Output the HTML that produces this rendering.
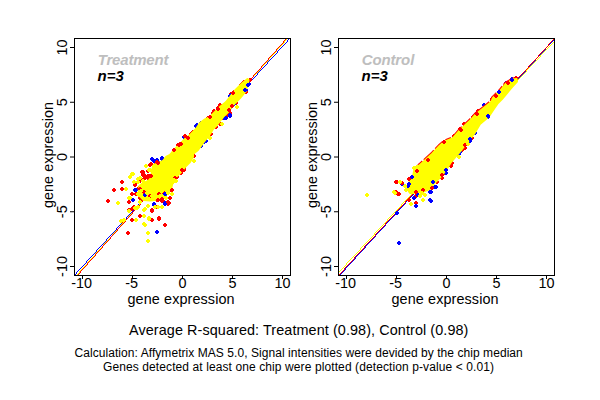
<!DOCTYPE html>
<html><head><meta charset="utf-8"><style>
html,body{margin:0;padding:0;background:#fff;width:600px;height:400px;overflow:hidden}
svg{display:block}
.t{font-family:"Liberation Sans",sans-serif;font-size:14.4px;fill:#000}
.bi{font-family:"Liberation Sans",sans-serif;font-size:15px;font-weight:bold;font-style:italic}
.s{font-family:"Liberation Sans",sans-serif;font-size:12px;fill:#000}
</style></head><body>
<svg width="600" height="400" viewBox="0 0 600 400">
<defs>
<clipPath id="c74"><rect x="74" y="38" width="217" height="238"/></clipPath>
<clipPath id="c338"><rect x="338" y="38" width="217" height="238"/></clipPath>
</defs>
<g clip-path="url(#c74)">
<path d="M289 38h1v1h-1zM288 39h1v1h-1zM287 40h1v1h-1zM287 41h1v1h-1zM286 42h1v1h-1zM285 43h1v1h-1zM284 44h1v1h-1zM283 45h1v1h-1zM282 46h1v1h-1zM281 47h1v1h-1zM280 48h1v1h-1zM279 49h1v1h-1zM278 50h1v1h-1zM277 51h1v1h-1zM277 52h1v1h-1zM276 53h1v1h-1zM275 54h1v1h-1zM274 55h1v1h-1zM273 56h1v1h-1zM272 57h1v1h-1zM271 58h1v1h-1zM270 59h1v1h-1zM269 60h1v1h-1zM268 61h1v1h-1zM267 62h1v1h-1zM267 63h1v1h-1zM266 64h1v1h-1zM265 65h1v1h-1zM264 66h1v1h-1zM263 67h1v1h-1zM262 68h1v1h-1zM261 69h1v1h-1zM260 70h1v1h-1zM259 71h1v1h-1zM258 72h1v1h-1zM257 73h1v1h-1zM257 74h1v1h-1zM256 75h1v1h-1zM255 76h1v1h-1zM254 77h1v1h-1zM253 78h1v1h-1zM252 79h1v1h-1zM251 80h1v1h-1zM250 81h1v1h-1zM249 82h1v1h-1zM248 83h1v1h-1zM247 84h1v1h-1zM247 85h1v1h-1zM246 86h1v1h-1zM245 87h1v1h-1zM244 88h1v1h-1zM243 89h1v1h-1zM242 90h1v1h-1zM241 91h1v1h-1zM240 92h1v1h-1zM239 93h1v1h-1zM238 94h1v1h-1zM237 95h1v1h-1zM237 96h1v1h-1zM236 97h1v1h-1zM235 98h1v1h-1zM234 99h1v1h-1zM233 100h1v1h-1zM232 101h1v1h-1zM231 102h1v1h-1zM230 103h1v1h-1zM229 104h1v1h-1zM228 105h1v1h-1zM227 106h1v1h-1zM227 107h1v1h-1zM226 108h1v1h-1zM225 109h1v1h-1zM224 110h1v1h-1zM223 111h1v1h-1zM222 112h1v1h-1zM221 113h1v1h-1zM220 114h1v1h-1zM219 115h1v1h-1zM218 116h1v1h-1zM217 117h1v1h-1zM217 118h1v1h-1zM216 119h1v1h-1zM215 120h1v1h-1zM214 121h1v1h-1zM213 122h1v1h-1zM212 123h1v1h-1zM211 124h1v1h-1zM210 125h1v1h-1zM209 126h1v1h-1zM208 127h1v1h-1zM207 128h1v1h-1zM207 129h1v1h-1zM206 130h1v1h-1zM205 131h1v1h-1zM204 132h1v1h-1zM203 133h1v1h-1zM202 134h1v1h-1zM201 135h1v1h-1zM200 136h1v1h-1zM199 137h1v1h-1zM198 138h1v1h-1zM197 139h1v1h-1zM197 140h1v1h-1zM196 141h1v1h-1zM195 142h1v1h-1zM194 143h1v1h-1zM193 144h1v1h-1zM192 145h1v1h-1zM191 146h1v1h-1zM190 147h1v1h-1zM189 148h1v1h-1zM188 149h1v1h-1zM187 150h1v1h-1zM187 151h1v1h-1zM186 152h1v1h-1zM185 153h1v1h-1zM184 154h1v1h-1zM183 155h1v1h-1zM182 156h1v1h-1zM181 157h1v1h-1zM180 158h1v1h-1zM179 159h1v1h-1zM178 160h1v1h-1zM177 161h1v1h-1zM176 162h1v1h-1zM176 163h1v1h-1zM175 164h1v1h-1zM174 165h1v1h-1zM173 166h1v1h-1zM172 167h1v1h-1zM171 168h1v1h-1zM170 169h1v1h-1zM169 170h1v1h-1zM168 171h1v1h-1zM167 172h1v1h-1zM166 173h1v1h-1zM166 174h1v1h-1zM165 175h1v1h-1zM164 176h1v1h-1zM163 177h1v1h-1zM162 178h1v1h-1zM161 179h1v1h-1zM160 180h1v1h-1zM159 181h1v1h-1zM158 182h1v1h-1zM157 183h1v1h-1zM156 184h1v1h-1zM156 185h1v1h-1zM155 186h1v1h-1zM154 187h1v1h-1zM153 188h1v1h-1zM152 189h1v1h-1zM151 190h1v1h-1zM150 191h1v1h-1zM149 192h1v1h-1zM148 193h1v1h-1zM147 194h1v1h-1zM146 195h1v1h-1zM146 196h1v1h-1zM145 197h1v1h-1zM144 198h1v1h-1zM143 199h1v1h-1zM142 200h1v1h-1zM141 201h1v1h-1zM140 202h1v1h-1zM139 203h1v1h-1zM138 204h1v1h-1zM137 205h1v1h-1zM136 206h1v1h-1zM136 207h1v1h-1zM135 208h1v1h-1zM134 209h1v1h-1zM133 210h1v1h-1zM132 211h1v1h-1zM131 212h1v1h-1zM130 213h1v1h-1zM129 214h1v1h-1zM128 215h1v1h-1zM127 216h1v1h-1zM126 217h1v1h-1zM126 218h1v1h-1zM125 219h1v1h-1zM124 220h1v1h-1zM123 221h1v1h-1zM122 222h1v1h-1zM121 223h1v1h-1zM120 224h1v1h-1zM119 225h1v1h-1zM118 226h1v1h-1zM117 227h1v1h-1zM116 228h1v1h-1zM116 229h1v1h-1zM115 230h1v1h-1zM114 231h1v1h-1zM113 232h1v1h-1zM112 233h1v1h-1zM111 234h1v1h-1zM110 235h1v1h-1zM109 236h1v1h-1zM108 237h1v1h-1zM107 238h1v1h-1zM106 239h1v1h-1zM106 240h1v1h-1zM105 241h1v1h-1zM104 242h1v1h-1zM103 243h1v1h-1zM102 244h1v1h-1zM101 245h1v1h-1zM100 246h1v1h-1zM99 247h1v1h-1zM98 248h1v1h-1zM97 249h1v1h-1zM96 250h1v1h-1zM96 251h1v1h-1zM95 252h1v1h-1zM94 253h1v1h-1zM93 254h1v1h-1zM92 255h1v1h-1zM91 256h1v1h-1zM90 257h1v1h-1zM89 258h1v1h-1zM88 259h1v1h-1zM87 260h1v1h-1zM86 261h1v1h-1zM86 262h1v1h-1zM85 263h1v1h-1zM84 264h1v1h-1zM83 265h1v1h-1zM82 266h1v1h-1zM81 267h1v1h-1zM80 268h1v1h-1zM79 269h1v1h-1zM78 270h1v1h-1zM77 271h1v1h-1zM76 272h1v1h-1zM76 273h1v1h-1zM75 274h1v1h-1zM74 275h1v1h-1z" fill="#0000ff" shape-rendering="crispEdges"/><path d="M287 38h1v1h-1zM286 39h1v1h-1zM285 40h1v1h-1zM284 41h1v1h-1zM284 42h1v1h-1zM283 43h1v1h-1zM282 44h1v1h-1zM281 45h1v1h-1zM280 46h1v1h-1zM279 47h1v1h-1zM278 48h1v1h-1zM277 49h1v1h-1zM276 50h1v1h-1zM276 51h1v1h-1zM275 52h1v1h-1zM274 53h1v1h-1zM273 54h1v1h-1zM272 55h1v1h-1zM271 56h1v1h-1zM270 57h1v1h-1zM269 58h1v1h-1zM268 59h1v1h-1zM268 60h1v1h-1zM267 61h1v1h-1zM266 62h1v1h-1zM265 63h1v1h-1zM264 64h1v1h-1zM263 65h1v1h-1zM262 66h1v1h-1zM261 67h1v1h-1zM260 68h1v1h-1zM260 69h1v1h-1zM259 70h1v1h-1zM258 71h1v1h-1zM257 72h1v1h-1zM256 73h1v1h-1zM255 74h1v1h-1zM254 75h1v1h-1zM253 76h1v1h-1zM252 77h1v1h-1zM251 78h1v1h-1zM251 79h1v1h-1zM250 80h1v1h-1zM249 81h1v1h-1zM248 82h1v1h-1zM247 83h1v1h-1zM246 84h1v1h-1zM245 85h1v1h-1zM244 86h1v1h-1zM243 87h1v1h-1zM243 88h1v1h-1zM242 89h1v1h-1zM241 90h1v1h-1zM240 91h1v1h-1zM239 92h1v1h-1zM238 93h1v1h-1zM237 94h1v1h-1zM236 95h1v1h-1zM235 96h1v1h-1zM235 97h1v1h-1zM234 98h1v1h-1zM233 99h1v1h-1zM232 100h1v1h-1zM231 101h1v1h-1zM230 102h1v1h-1zM229 103h1v1h-1zM228 104h1v1h-1zM227 105h1v1h-1zM227 106h1v1h-1zM226 107h1v1h-1zM225 108h1v1h-1zM224 109h1v1h-1zM223 110h1v1h-1zM222 111h1v1h-1zM221 112h1v1h-1zM220 113h1v1h-1zM219 114h1v1h-1zM219 115h1v1h-1zM218 116h1v1h-1zM217 117h1v1h-1zM216 118h1v1h-1zM215 119h1v1h-1zM214 120h1v1h-1zM213 121h1v1h-1zM212 122h1v1h-1zM211 123h1v1h-1zM210 124h1v1h-1zM210 125h1v1h-1zM209 126h1v1h-1zM208 127h1v1h-1zM207 128h1v1h-1zM206 129h1v1h-1zM205 130h1v1h-1zM204 131h1v1h-1zM203 132h1v1h-1zM202 133h1v1h-1zM202 134h1v1h-1zM201 135h1v1h-1zM200 136h1v1h-1zM199 137h1v1h-1zM198 138h1v1h-1zM197 139h1v1h-1zM196 140h1v1h-1zM195 141h1v1h-1zM194 142h1v1h-1zM194 143h1v1h-1zM193 144h1v1h-1zM192 145h1v1h-1zM191 146h1v1h-1zM190 147h1v1h-1zM189 148h1v1h-1zM188 149h1v1h-1zM187 150h1v1h-1zM186 151h1v1h-1zM186 152h1v1h-1zM185 153h1v1h-1zM184 154h1v1h-1zM183 155h1v1h-1zM182 156h1v1h-1zM181 157h1v1h-1zM180 158h1v1h-1zM179 159h1v1h-1zM178 160h1v1h-1zM177 161h1v1h-1zM177 162h1v1h-1zM176 163h1v1h-1zM175 164h1v1h-1zM174 165h1v1h-1zM173 166h1v1h-1zM172 167h1v1h-1zM171 168h1v1h-1zM170 169h1v1h-1zM169 170h1v1h-1zM169 171h1v1h-1zM168 172h1v1h-1zM167 173h1v1h-1zM166 174h1v1h-1zM165 175h1v1h-1zM164 176h1v1h-1zM163 177h1v1h-1zM162 178h1v1h-1zM161 179h1v1h-1zM161 180h1v1h-1zM160 181h1v1h-1zM159 182h1v1h-1zM158 183h1v1h-1zM157 184h1v1h-1zM156 185h1v1h-1zM155 186h1v1h-1zM154 187h1v1h-1zM153 188h1v1h-1zM153 189h1v1h-1zM152 190h1v1h-1zM151 191h1v1h-1zM150 192h1v1h-1zM149 193h1v1h-1zM148 194h1v1h-1zM147 195h1v1h-1zM146 196h1v1h-1zM145 197h1v1h-1zM144 198h1v1h-1zM144 199h1v1h-1zM143 200h1v1h-1zM142 201h1v1h-1zM141 202h1v1h-1zM140 203h1v1h-1zM139 204h1v1h-1zM138 205h1v1h-1zM137 206h1v1h-1zM136 207h1v1h-1zM136 208h1v1h-1zM135 209h1v1h-1zM134 210h1v1h-1zM133 211h1v1h-1zM132 212h1v1h-1zM131 213h1v1h-1zM130 214h1v1h-1zM129 215h1v1h-1zM128 216h1v1h-1zM128 217h1v1h-1zM127 218h1v1h-1zM126 219h1v1h-1zM125 220h1v1h-1zM124 221h1v1h-1zM123 222h1v1h-1zM122 223h1v1h-1zM121 224h1v1h-1zM120 225h1v1h-1zM120 226h1v1h-1zM119 227h1v1h-1zM118 228h1v1h-1zM117 229h1v1h-1zM116 230h1v1h-1zM115 231h1v1h-1zM114 232h1v1h-1zM113 233h1v1h-1zM112 234h1v1h-1zM112 235h1v1h-1zM111 236h1v1h-1zM110 237h1v1h-1zM109 238h1v1h-1zM108 239h1v1h-1zM107 240h1v1h-1zM106 241h1v1h-1zM105 242h1v1h-1zM104 243h1v1h-1zM103 244h1v1h-1zM103 245h1v1h-1zM102 246h1v1h-1zM101 247h1v1h-1zM100 248h1v1h-1zM99 249h1v1h-1zM98 250h1v1h-1zM97 251h1v1h-1zM96 252h1v1h-1zM95 253h1v1h-1zM95 254h1v1h-1zM94 255h1v1h-1zM93 256h1v1h-1zM92 257h1v1h-1zM91 258h1v1h-1zM90 259h1v1h-1zM89 260h1v1h-1zM88 261h1v1h-1zM87 262h1v1h-1zM87 263h1v1h-1zM86 264h1v1h-1zM85 265h1v1h-1zM84 266h1v1h-1zM83 267h1v1h-1zM82 268h1v1h-1zM81 269h1v1h-1zM80 270h1v1h-1zM79 271h1v1h-1zM79 272h1v1h-1zM78 273h1v1h-1zM77 274h1v1h-1zM76 275h1v1h-1z" fill="#ffff00" shape-rendering="crispEdges"/><path d="M286 38h1v1h-1zM285 39h1v1h-1zM284 40h1v1h-1zM283 41h1v1h-1zM283 42h1v1h-1zM282 43h1v1h-1zM281 44h1v1h-1zM280 45h1v1h-1zM279 46h1v1h-1zM278 47h1v1h-1zM277 48h1v1h-1zM276 49h1v1h-1zM276 50h1v1h-1zM275 51h1v1h-1zM274 52h1v1h-1zM273 53h1v1h-1zM272 54h1v1h-1zM271 55h1v1h-1zM270 56h1v1h-1zM269 57h1v1h-1zM268 58h1v1h-1zM268 59h1v1h-1zM267 60h1v1h-1zM266 61h1v1h-1zM265 62h1v1h-1zM264 63h1v1h-1zM263 64h1v1h-1zM262 65h1v1h-1zM261 66h1v1h-1zM261 67h1v1h-1zM260 68h1v1h-1zM259 69h1v1h-1zM258 70h1v1h-1zM257 71h1v1h-1zM256 72h1v1h-1zM255 73h1v1h-1zM254 74h1v1h-1zM253 75h1v1h-1zM253 76h1v1h-1zM252 77h1v1h-1zM251 78h1v1h-1zM250 79h1v1h-1zM249 80h1v1h-1zM248 81h1v1h-1zM247 82h1v1h-1zM246 83h1v1h-1zM246 84h1v1h-1zM245 85h1v1h-1zM244 86h1v1h-1zM243 87h1v1h-1zM242 88h1v1h-1zM241 89h1v1h-1zM240 90h1v1h-1zM239 91h1v1h-1zM238 92h1v1h-1zM238 93h1v1h-1zM237 94h1v1h-1zM236 95h1v1h-1zM235 96h1v1h-1zM234 97h1v1h-1zM233 98h1v1h-1zM232 99h1v1h-1zM231 100h1v1h-1zM231 101h1v1h-1zM230 102h1v1h-1zM229 103h1v1h-1zM228 104h1v1h-1zM227 105h1v1h-1zM226 106h1v1h-1zM225 107h1v1h-1zM224 108h1v1h-1zM223 109h1v1h-1zM223 110h1v1h-1zM222 111h1v1h-1zM221 112h1v1h-1zM220 113h1v1h-1zM219 114h1v1h-1zM218 115h1v1h-1zM217 116h1v1h-1zM216 117h1v1h-1zM215 118h1v1h-1zM215 119h1v1h-1zM214 120h1v1h-1zM213 121h1v1h-1zM212 122h1v1h-1zM211 123h1v1h-1zM210 124h1v1h-1zM209 125h1v1h-1zM208 126h1v1h-1zM208 127h1v1h-1zM207 128h1v1h-1zM206 129h1v1h-1zM205 130h1v1h-1zM204 131h1v1h-1zM203 132h1v1h-1zM202 133h1v1h-1zM201 134h1v1h-1zM200 135h1v1h-1zM200 136h1v1h-1zM199 137h1v1h-1zM198 138h1v1h-1zM197 139h1v1h-1zM196 140h1v1h-1zM195 141h1v1h-1zM194 142h1v1h-1zM193 143h1v1h-1zM193 144h1v1h-1zM192 145h1v1h-1zM191 146h1v1h-1zM190 147h1v1h-1zM189 148h1v1h-1zM188 149h1v1h-1zM187 150h1v1h-1zM186 151h1v1h-1zM185 152h1v1h-1zM185 153h1v1h-1zM184 154h1v1h-1zM183 155h1v1h-1zM182 156h1v1h-1zM181 157h1v1h-1zM180 158h1v1h-1zM179 159h1v1h-1zM178 160h1v1h-1zM178 161h1v1h-1zM177 162h1v1h-1zM176 163h1v1h-1zM175 164h1v1h-1zM174 165h1v1h-1zM173 166h1v1h-1zM172 167h1v1h-1zM171 168h1v1h-1zM170 169h1v1h-1zM170 170h1v1h-1zM169 171h1v1h-1zM168 172h1v1h-1zM167 173h1v1h-1zM166 174h1v1h-1zM165 175h1v1h-1zM164 176h1v1h-1zM163 177h1v1h-1zM163 178h1v1h-1zM162 179h1v1h-1zM161 180h1v1h-1zM160 181h1v1h-1zM159 182h1v1h-1zM158 183h1v1h-1zM157 184h1v1h-1zM156 185h1v1h-1zM155 186h1v1h-1zM155 187h1v1h-1zM154 188h1v1h-1zM153 189h1v1h-1zM152 190h1v1h-1zM151 191h1v1h-1zM150 192h1v1h-1zM149 193h1v1h-1zM148 194h1v1h-1zM148 195h1v1h-1zM147 196h1v1h-1zM146 197h1v1h-1zM145 198h1v1h-1zM144 199h1v1h-1zM143 200h1v1h-1zM142 201h1v1h-1zM141 202h1v1h-1zM140 203h1v1h-1zM140 204h1v1h-1zM139 205h1v1h-1zM138 206h1v1h-1zM137 207h1v1h-1zM136 208h1v1h-1zM135 209h1v1h-1zM134 210h1v1h-1zM133 211h1v1h-1zM132 212h1v1h-1zM132 213h1v1h-1zM131 214h1v1h-1zM130 215h1v1h-1zM129 216h1v1h-1zM128 217h1v1h-1zM127 218h1v1h-1zM126 219h1v1h-1zM125 220h1v1h-1zM125 221h1v1h-1zM124 222h1v1h-1zM123 223h1v1h-1zM122 224h1v1h-1zM121 225h1v1h-1zM120 226h1v1h-1zM119 227h1v1h-1zM118 228h1v1h-1zM117 229h1v1h-1zM117 230h1v1h-1zM116 231h1v1h-1zM115 232h1v1h-1zM114 233h1v1h-1zM113 234h1v1h-1zM112 235h1v1h-1zM111 236h1v1h-1zM110 237h1v1h-1zM110 238h1v1h-1zM109 239h1v1h-1zM108 240h1v1h-1zM107 241h1v1h-1zM106 242h1v1h-1zM105 243h1v1h-1zM104 244h1v1h-1zM103 245h1v1h-1zM102 246h1v1h-1zM102 247h1v1h-1zM101 248h1v1h-1zM100 249h1v1h-1zM99 250h1v1h-1zM98 251h1v1h-1zM97 252h1v1h-1zM96 253h1v1h-1zM95 254h1v1h-1zM95 255h1v1h-1zM94 256h1v1h-1zM93 257h1v1h-1zM92 258h1v1h-1zM91 259h1v1h-1zM90 260h1v1h-1zM89 261h1v1h-1zM88 262h1v1h-1zM87 263h1v1h-1zM87 264h1v1h-1zM86 265h1v1h-1zM85 266h1v1h-1zM84 267h1v1h-1zM83 268h1v1h-1zM82 269h1v1h-1zM81 270h1v1h-1zM80 271h1v1h-1zM80 272h1v1h-1zM79 273h1v1h-1zM78 274h1v1h-1zM77 275h1v1h-1z" fill="#ff0000" shape-rendering="crispEdges"/><path d="M121 180h2v1h1v2h-1v1h-2v-1h-1v-2h1zM113 188h2v1h1v2h-1v1h-2v-1h-1v-2h1zM121 187h2v1h1v2h-1v1h-2v-1h-1v-2h1zM107 199h2v1h1v2h-1v1h-2v-1h-1v-2h1zM131 192h2v1h1v2h-1v1h-2v-1h-1v-2h1zM135 192h2v1h1v2h-1v1h-2v-1h-1v-2h1zM128 200h2v1h1v2h-1v1h-2v-1h-1v-2h1zM128 208h2v1h1v2h-1v1h-2v-1h-1v-2h1zM133 205h2v1h1v2h-1v1h-2v-1h-1v-2h1zM139 214h2v1h1v2h-1v1h-2v-1h-1v-2h1zM131 218h2v1h1v2h-1v1h-2v-1h-1v-2h1zM121 219h2v1h1v2h-1v1h-2v-1h-1v-2h1zM151 209h2v1h1v2h-1v1h-2v-1h-1v-2h1zM151 218h2v1h1v2h-1v1h-2v-1h-1v-2h1zM127 231h2v1h1v2h-1v1h-2v-1h-1v-2h1zM139 196h2v1h1v2h-1v1h-2v-1h-1v-2h1zM142 197h2v1h1v2h-1v1h-2v-1h-1v-2h1zM134 183h2v1h1v2h-1v1h-2v-1h-1v-2h1zM143 173h2v1h1v2h-1v1h-2v-1h-1v-2h1zM147 174h2v1h1v2h-1v1h-2v-1h-1v-2h1zM151 176h2v1h1v2h-1v1h-2v-1h-1v-2h1zM176 175h2v1h1v2h-1v1h-2v-1h-1v-2h1zM171 180h2v1h1v2h-1v1h-2v-1h-1v-2h1zM170 188h2v1h1v2h-1v1h-2v-1h-1v-2h1zM165 192h2v1h1v2h-1v1h-2v-1h-1v-2h1zM169 196h2v1h1v2h-1v1h-2v-1h-1v-2h1zM161 199h2v1h1v2h-1v1h-2v-1h-1v-2h1zM167 202h2v1h1v2h-1v1h-2v-1h-1v-2h1zM156 198h2v1h1v2h-1v1h-2v-1h-1v-2h1zM157 205h2v1h1v2h-1v1h-2v-1h-1v-2h1zM158 217h2v1h1v2h-1v1h-2v-1h-1v-2h1zM164 223h2v1h1v2h-1v1h-2v-1h-1v-2h1zM142 171h2v1h1v2h-1v1h-2v-1h-1v-2h1zM150 162h2v1h1v2h-1v1h-2v-1h-1v-2h1zM156 159h2v1h1v2h-1v1h-2v-1h-1v-2h1zM142 170h2v1h1v2h-1v1h-2v-1h-1v-2h1zM144 174h2v1h1v2h-1v1h-2v-1h-1v-2h1zM140 177h2v1h1v2h-1v1h-2v-1h-1v-2h1zM147 176h2v1h1v2h-1v1h-2v-1h-1v-2h1zM149 174h2v1h1v2h-1v1h-2v-1h-1v-2h1zM134 181h2v1h1v2h-1v1h-2v-1h-1v-2h1zM138 186h2v1h1v2h-1v1h-2v-1h-1v-2h1zM140 198h2v1h1v2h-1v1h-2v-1h-1v-2h1zM149 194h2v1h1v2h-1v1h-2v-1h-1v-2h1zM148 188h2v1h1v2h-1v1h-2v-1h-1v-2h1zM156 205h2v1h1v2h-1v1h-2v-1h-1v-2h1zM162 199h2v1h1v2h-1v1h-2v-1h-1v-2h1zM167 202h2v1h1v2h-1v1h-2v-1h-1v-2h1zM163 191h2v1h1v2h-1v1h-2v-1h-1v-2h1zM170 188h2v1h1v2h-1v1h-2v-1h-1v-2h1zM175 175h2v1h1v2h-1v1h-2v-1h-1v-2h1zM157 198h2v1h1v2h-1v1h-2v-1h-1v-2h1zM131 207h2v1h1v2h-1v1h-2v-1h-1v-2h1zM184 134h2v1h1v2h-1v1h-2v-1h-1v-2h1zM185 136h2v1h1v2h-1v1h-2v-1h-1v-2h1zM177 143h2v1h1v2h-1v1h-2v-1h-1v-2h1zM180 142h2v1h1v2h-1v1h-2v-1h-1v-2h1zM173 148h2v1h1v2h-1v1h-2v-1h-1v-2h1zM190 132h2v1h1v2h-1v1h-2v-1h-1v-2h1zM192 130h2v1h1v2h-1v1h-2v-1h-1v-2h1zM198 124h2v1h1v2h-1v1h-2v-1h-1v-2h1zM207 116h2v1h1v2h-1v1h-2v-1h-1v-2h1zM157 161h2v1h1v2h-1v1h-2v-1h-1v-2h1zM159 164h2v1h1v2h-1v1h-2v-1h-1v-2h1zM154 160h2v1h1v2h-1v1h-2v-1h-1v-2h1zM210 132h2v1h1v2h-1v1h-2v-1h-1v-2h1zM193 154h2v1h1v2h-1v1h-2v-1h-1v-2h1zM183 166h2v1h1v2h-1v1h-2v-1h-1v-2h1zM180 171h2v1h1v2h-1v1h-2v-1h-1v-2h1zM191 148h2v1h1v2h-1v1h-2v-1h-1v-2h1zM179 142h2v1h1v2h-1v1h-2v-1h-1v-2h1zM149 163h2v1h1v2h-1v1h-2v-1h-1v-2h1zM183 168h2v1h1v2h-1v1h-2v-1h-1v-2h1zM176 175h2v1h1v2h-1v1h-2v-1h-1v-2h1zM169 196h2v1h1v2h-1v1h-2v-1h-1v-2h1zM162 199h2v1h1v2h-1v1h-2v-1h-1v-2h1zM168 201h2v1h1v2h-1v1h-2v-1h-1v-2h1zM151 208h2v1h1v2h-1v1h-2v-1h-1v-2h1zM139 214h2v1h1v2h-1v1h-2v-1h-1v-2h1zM158 216h2v1h1v2h-1v1h-2v-1h-1v-2h1zM213 109h2v1h1v2h-1v1h-2v-1h-1v-2h1zM219 103h2v1h1v2h-1v1h-2v-1h-1v-2h1zM230 92h2v1h1v2h-1v1h-2v-1h-1v-2h1zM240 83h2v1h1v2h-1v1h-2v-1h-1v-2h1zM243 80h2v1h1v2h-1v1h-2v-1h-1v-2h1zM227 112h2v1h1v2h-1v1h-2v-1h-1v-2h1zM229 111h2v1h1v2h-1v1h-2v-1h-1v-2h1zM222 116h2v1h1v2h-1v1h-2v-1h-1v-2h1zM219 122h2v1h1v2h-1v1h-2v-1h-1v-2h1zM235 101h2v1h1v2h-1v1h-2v-1h-1v-2h1zM245 90h2v1h1v2h-1v1h-2v-1h-1v-2h1zM219 103h2v1h1v2h-1v1h-2v-1h-1v-2h1zM233 90h2v1h1v2h-1v1h-2v-1h-1v-2h1zM241 82h2v1h1v2h-1v1h-2v-1h-1v-2h1zM249 78h2v1h1v2h-1v1h-2v-1h-1v-2h1zM229 111h2v1h1v2h-1v1h-2v-1h-1v-2h1zM229 106h2v1h1v2h-1v1h-2v-1h-1v-2h1zM226 114h2v1h1v2h-1v1h-2v-1h-1v-2h1zM229 114h2v1h1v2h-1v1h-2v-1h-1v-2h1zM218 121h2v1h1v2h-1v1h-2v-1h-1v-2h1zM215 125h2v1h1v2h-1v1h-2v-1h-1v-2h1zM212 111h2v1h1v2h-1v1h-2v-1h-1v-2h1zM217 106h2v1h1v2h-1v1h-2v-1h-1v-2h1z" fill="#ff0000" shape-rendering="crispEdges"/><path d="M135 188h2v1h1v2h-1v1h-2v-1h-1v-2h1zM132 198h2v1h1v2h-1v1h-2v-1h-1v-2h1zM143 192h2v1h1v2h-1v1h-2v-1h-1v-2h1zM153 202h2v1h1v2h-1v1h-2v-1h-1v-2h1zM164 201h2v1h1v2h-1v1h-2v-1h-1v-2h1zM156 230h2v1h1v2h-1v1h-2v-1h-1v-2h1zM151 157h2v1h1v2h-1v1h-2v-1h-1v-2h1zM153 159h2v1h1v2h-1v1h-2v-1h-1v-2h1zM161 157h2v1h1v2h-1v1h-2v-1h-1v-2h1zM172 151h2v1h1v2h-1v1h-2v-1h-1v-2h1zM161 156h2v1h1v2h-1v1h-2v-1h-1v-2h1zM195 124h2v1h1v2h-1v1h-2v-1h-1v-2h1zM200 121h2v1h1v2h-1v1h-2v-1h-1v-2h1zM183 135h2v1h1v2h-1v1h-2v-1h-1v-2h1zM200 144h2v1h1v2h-1v1h-2v-1h-1v-2h1zM203 140h2v1h1v2h-1v1h-2v-1h-1v-2h1zM205 139h2v1h1v2h-1v1h-2v-1h-1v-2h1zM144 193h2v1h1v2h-1v1h-2v-1h-1v-2h1zM153 202h2v1h1v2h-1v1h-2v-1h-1v-2h1zM164 202h2v1h1v2h-1v1h-2v-1h-1v-2h1zM165 192h2v1h1v2h-1v1h-2v-1h-1v-2h1zM140 191h2v1h1v2h-1v1h-2v-1h-1v-2h1zM196 123h2v1h1v2h-1v1h-2v-1h-1v-2h1zM230 93h2v1h1v2h-1v1h-2v-1h-1v-2h1zM248 82h2v1h1v2h-1v1h-2v-1h-1v-2h1zM243 88h2v1h1v2h-1v1h-2v-1h-1v-2h1zM223 116h2v1h1v2h-1v1h-2v-1h-1v-2h1zM229 105h2v1h1v2h-1v1h-2v-1h-1v-2h1zM238 93h2v1h1v2h-1v1h-2v-1h-1v-2h1zM229 94h2v1h1v2h-1v1h-2v-1h-1v-2h1zM245 88h2v1h1v2h-1v1h-2v-1h-1v-2h1zM241 92h2v1h1v2h-1v1h-2v-1h-1v-2h1zM233 102h2v1h1v2h-1v1h-2v-1h-1v-2h1zM230 105h2v1h1v2h-1v1h-2v-1h-1v-2h1zM229 113h2v1h1v2h-1v1h-2v-1h-1v-2h1zM158 161h2v1h1v2h-1v1h-2v-1h-1v-2h1zM156 158h2v1h1v2h-1v1h-2v-1h-1v-2h1z" fill="#0000ff" shape-rendering="crispEdges"/><polygon points="247.5,79 242,83.5 234.5,91 230,97 226,102 220,107 215,112 210,117 204,120 200,123 196,129 190,135 186,138 180,144 175,149 170,155 166,157 163,161 157,164 153,165 152.5,169 151.5,174 150,179.5 146,182 142.5,183.5 139.5,186 138.7,190 139.4,195.6 143.7,200 150,200.5 158,199.5 164,197 167,193 171,189 172,185 173,181 176,177 180,173 185,167 190,162 193,157 193,154 198,150 203,143 210,134 213,129 217,125 220,121 224,116 228,112 231,108 235,103 240,98 245.7,91 248,83 248.5,80" fill="#ffff00" stroke="#ffff00" stroke-width="2" stroke-linejoin="round"/><path d="M141 170h2v1h1v2h-1v1h-2v-1h-1v-2h1zM142 173h2v1h1v2h-1v1h-2v-1h-1v-2h1zM144 175h2v1h1v2h-1v1h-2v-1h-1v-2h1zM147 175h2v1h1v2h-1v1h-2v-1h-1v-2h1zM150 174h2v1h1v2h-1v1h-2v-1h-1v-2h1zM141 178h2v1h1v2h-1v1h-2v-1h-1v-2h1zM139 179h2v1h1v2h-1v1h-2v-1h-1v-2h1zM150 162h2v1h1v2h-1v1h-2v-1h-1v-2h1zM157 161h2v1h1v2h-1v1h-2v-1h-1v-2h1zM156 160h2v1h1v2h-1v1h-2v-1h-1v-2h1zM184 134h2v1h1v2h-1v1h-2v-1h-1v-2h1zM187 136h2v1h1v2h-1v1h-2v-1h-1v-2h1zM178 143h2v1h1v2h-1v1h-2v-1h-1v-2h1zM180 142h2v1h1v2h-1v1h-2v-1h-1v-2h1zM173 148h2v1h1v2h-1v1h-2v-1h-1v-2h1zM143 190h2v1h1v2h-1v1h-2v-1h-1v-2h1zM139 187h2v1h1v2h-1v1h-2v-1h-1v-2h1zM161 197h2v1h1v2h-1v1h-2v-1h-1v-2h1zM167 200h2v1h1v2h-1v1h-2v-1h-1v-2h1zM158 192h2v1h1v2h-1v1h-2v-1h-1v-2h1zM171 188h2v1h1v2h-1v1h-2v-1h-1v-2h1zM174 176h2v1h1v2h-1v1h-2v-1h-1v-2h1zM181 168h2v1h1v2h-1v1h-2v-1h-1v-2h1zM144 176h2v1h1v2h-1v1h-2v-1h-1v-2h1zM147 169h2v1h1v2h-1v1h-2v-1h-1v-2h1zM163 191h2v1h1v2h-1v1h-2v-1h-1v-2h1zM149 194h2v1h1v2h-1v1h-2v-1h-1v-2h1zM157 198h2v1h1v2h-1v1h-2v-1h-1v-2h1zM169 196h2v1h1v2h-1v1h-2v-1h-1v-2h1z" fill="#ff0000" shape-rendering="crispEdges"/><path d="M209 115h2v1h1v2h-1v1h-2v-1h-1v-2h1zM217 107h2v1h1v2h-1v1h-2v-1h-1v-2h1zM232 91h2v1h1v2h-1v1h-2v-1h-1v-2h1zM228 108h2v1h1v2h-1v1h-2v-1h-1v-2h1zM231 104h2v1h1v2h-1v1h-2v-1h-1v-2h1z" fill="#ff0000" shape-rendering="crispEdges"/><path d="M247 83h2v1h1v2h-1v1h-2v-1h-1v-2h1zM244 88h2v1h1v2h-1v1h-2v-1h-1v-2h1zM229 114h2v1h1v2h-1v1h-2v-1h-1v-2h1zM225 116h2v1h1v2h-1v1h-2v-1h-1v-2h1zM144 193h2v1h1v2h-1v1h-2v-1h-1v-2h1zM164 192h2v1h1v2h-1v1h-2v-1h-1v-2h1zM153 203h2v1h1v2h-1v1h-2v-1h-1v-2h1zM164 202h2v1h1v2h-1v1h-2v-1h-1v-2h1zM134 188h2v1h1v2h-1v1h-2v-1h-1v-2h1z" fill="#0000ff" shape-rendering="crispEdges"/><path d="M132 172h2v1h1v2h-1v1h-2v-1h-1v-2h1zM129 175h2v1h1v2h-1v1h-2v-1h-1v-2h1zM125 187h2v1h1v2h-1v1h-2v-1h-1v-2h1zM117 201h2v1h1v2h-1v1h-2v-1h-1v-2h1zM129 196h2v1h1v2h-1v1h-2v-1h-1v-2h1zM136 206h2v1h1v2h-1v1h-2v-1h-1v-2h1zM144 207h2v1h1v2h-1v1h-2v-1h-1v-2h1zM147 204h2v1h1v2h-1v1h-2v-1h-1v-2h1zM154 205h2v1h1v2h-1v1h-2v-1h-1v-2h1zM157 205h2v1h1v2h-1v1h-2v-1h-1v-2h1zM161 205h2v1h1v2h-1v1h-2v-1h-1v-2h1zM143 214h2v1h1v2h-1v1h-2v-1h-1v-2h1zM135 218h2v1h1v2h-1v1h-2v-1h-1v-2h1zM148 217h2v1h1v2h-1v1h-2v-1h-1v-2h1zM144 223h2v1h1v2h-1v1h-2v-1h-1v-2h1zM147 231h2v1h1v2h-1v1h-2v-1h-1v-2h1zM147 239h2v1h1v2h-1v1h-2v-1h-1v-2h1zM123 218h2v1h1v2h-1v1h-2v-1h-1v-2h1zM120 219h2v1h1v2h-1v1h-2v-1h-1v-2h1zM129 175h2v1h1v2h-1v1h-2v-1h-1v-2h1zM137 192h2v1h1v2h-1v1h-2v-1h-1v-2h1zM128 196h2v1h1v2h-1v1h-2v-1h-1v-2h1zM128 209h2v1h1v2h-1v1h-2v-1h-1v-2h1zM134 206h2v1h1v2h-1v1h-2v-1h-1v-2h1zM137 205h2v1h1v2h-1v1h-2v-1h-1v-2h1zM143 214h2v1h1v2h-1v1h-2v-1h-1v-2h1zM135 218h2v1h1v2h-1v1h-2v-1h-1v-2h1zM123 218h2v1h1v2h-1v1h-2v-1h-1v-2h1zM143 208h2v1h1v2h-1v1h-2v-1h-1v-2h1zM147 204h2v1h1v2h-1v1h-2v-1h-1v-2h1zM148 216h2v1h1v2h-1v1h-2v-1h-1v-2h1zM143 222h2v1h1v2h-1v1h-2v-1h-1v-2h1zM147 231h2v1h1v2h-1v1h-2v-1h-1v-2h1zM139 200h2v1h1v2h-1v1h-2v-1h-1v-2h1zM133 180h2v1h1v2h-1v1h-2v-1h-1v-2h1zM137 180h2v1h1v2h-1v1h-2v-1h-1v-2h1zM139 176h2v1h1v2h-1v1h-2v-1h-1v-2h1zM173 179h2v1h1v2h-1v1h-2v-1h-1v-2h1zM161 205h2v1h1v2h-1v1h-2v-1h-1v-2h1zM145 164h2v1h1v2h-1v1h-2v-1h-1v-2h1zM149 168h2v1h1v2h-1v1h-2v-1h-1v-2h1zM132 172h2v1h1v2h-1v1h-2v-1h-1v-2h1zM145 164h2v1h1v2h-1v1h-2v-1h-1v-2h1zM131 172h2v1h1v2h-1v1h-2v-1h-1v-2h1zM137 177h2v1h1v2h-1v1h-2v-1h-1v-2h1zM148 168h2v1h1v2h-1v1h-2v-1h-1v-2h1zM236 105h2v1h1v2h-1v1h-2v-1h-1v-2h1zM221 122h2v1h1v2h-1v1h-2v-1h-1v-2h1zM209 136h2v1h1v2h-1v1h-2v-1h-1v-2h1zM193 159h2v1h1v2h-1v1h-2v-1h-1v-2h1zM171 181h2v1h1v2h-1v1h-2v-1h-1v-2h1zM173 178h2v1h1v2h-1v1h-2v-1h-1v-2h1z" fill="#ffff00" shape-rendering="crispEdges"/><path d="M140 189h2v1h1v2h-1v1h-2v-1h-1v-2h1zM146 191h2v1h1v2h-1v1h-2v-1h-1v-2h1zM151 194h2v1h1v2h-1v1h-2v-1h-1v-2h1zM155 195h2v1h1v2h-1v1h-2v-1h-1v-2h1zM159 194h2v1h1v2h-1v1h-2v-1h-1v-2h1zM165 196h2v1h1v2h-1v1h-2v-1h-1v-2h1zM145 184h2v1h1v2h-1v1h-2v-1h-1v-2h1zM149 188h2v1h1v2h-1v1h-2v-1h-1v-2h1zM154 190h2v1h1v2h-1v1h-2v-1h-1v-2h1zM161 189h2v1h1v2h-1v1h-2v-1h-1v-2h1zM167 191h2v1h1v2h-1v1h-2v-1h-1v-2h1zM138 193h2v1h1v2h-1v1h-2v-1h-1v-2h1zM148 197h2v1h1v2h-1v1h-2v-1h-1v-2h1zM171 192h2v1h1v2h-1v1h-2v-1h-1v-2h1zM175 179h2v1h1v2h-1v1h-2v-1h-1v-2h1zM169 184h2v1h1v2h-1v1h-2v-1h-1v-2h1zM142 179h2v1h1v2h-1v1h-2v-1h-1v-2h1z" fill="#ffff00" shape-rendering="crispEdges"/>

</g>
<rect x="74.5" y="38.5" width="216" height="237" fill="none" stroke="#000" stroke-width="1"/>
<line x1="82.5" y1="275.5" x2="82.5" y2="279" stroke="#000"/>
<text x="81.7" y="288.2" text-anchor="middle" class="t">-10</text>
<line x1="132.5" y1="275.5" x2="132.5" y2="279" stroke="#000"/>
<text x="131.7" y="288.2" text-anchor="middle" class="t">-5</text>
<line x1="182.5" y1="275.5" x2="182.5" y2="279" stroke="#000"/>
<text x="182.5" y="288.2" text-anchor="middle" class="t">0</text>
<line x1="232.5" y1="275.5" x2="232.5" y2="279" stroke="#000"/>
<text x="232.5" y="288.2" text-anchor="middle" class="t">5</text>
<line x1="282.5" y1="275.5" x2="282.5" y2="279" stroke="#000"/>
<text x="282.5" y="288.2" text-anchor="middle" class="t">10</text>
<line x1="70" y1="47.5" x2="74.5" y2="47.5" stroke="#000"/>
<text transform="translate(66.5,47.5) rotate(-90)" text-anchor="middle" class="t">10</text>
<line x1="70" y1="102.25" x2="74.5" y2="102.25" stroke="#000"/>
<text transform="translate(66.5,102.25) rotate(-90)" text-anchor="middle" class="t">5</text>
<line x1="70" y1="157.0" x2="74.5" y2="157.0" stroke="#000"/>
<text transform="translate(66.5,157.0) rotate(-90)" text-anchor="middle" class="t">0</text>
<line x1="70" y1="211.75" x2="74.5" y2="211.75" stroke="#000"/>
<text transform="translate(66.5,211.75) rotate(-90)" text-anchor="middle" class="t">-5</text>
<line x1="70" y1="266.5" x2="74.5" y2="266.5" stroke="#000"/>
<text transform="translate(66.5,266.5) rotate(-90)" text-anchor="middle" class="t">-10</text>
<text x="127.5" y="303.5" class="t" textLength="107.1" lengthAdjust="spacing">gene expression</text>
<text transform="translate(53,208) rotate(-90)" class="t" textLength="106" lengthAdjust="spacing">gene expression</text>
<text x="97.7" y="64.7" class="bi" textLength="70.8" lengthAdjust="spacing" fill="#bebebe">Treatment</text>
<text x="97.5" y="80.7" class="bi" fill="#000">n=3</text>
<g clip-path="url(#c338)">
<path d="M554 40h1v1h-1zM554 41h1v1h-1zM553 42h1v1h-1zM552 43h1v1h-1zM551 44h1v1h-1zM550 45h1v1h-1zM549 46h1v1h-1zM548 47h1v1h-1zM547 48h1v1h-1zM546 49h1v1h-1zM545 50h1v1h-1zM544 51h1v1h-1zM543 52h1v1h-1zM542 53h1v1h-1zM541 54h1v1h-1zM540 55h1v1h-1zM540 56h1v1h-1zM539 57h1v1h-1zM538 58h1v1h-1zM537 59h1v1h-1zM536 60h1v1h-1zM535 61h1v1h-1zM534 62h1v1h-1zM533 63h1v1h-1zM532 64h1v1h-1zM531 65h1v1h-1zM530 66h1v1h-1zM529 67h1v1h-1zM528 68h1v1h-1zM527 69h1v1h-1zM526 70h1v1h-1zM526 71h1v1h-1zM525 72h1v1h-1zM524 73h1v1h-1zM523 74h1v1h-1zM522 75h1v1h-1zM521 76h1v1h-1zM520 77h1v1h-1zM519 78h1v1h-1zM518 79h1v1h-1zM517 80h1v1h-1zM516 81h1v1h-1zM515 82h1v1h-1zM514 83h1v1h-1zM513 84h1v1h-1zM512 85h1v1h-1zM512 86h1v1h-1zM511 87h1v1h-1zM510 88h1v1h-1zM509 89h1v1h-1zM508 90h1v1h-1zM507 91h1v1h-1zM506 92h1v1h-1zM505 93h1v1h-1zM504 94h1v1h-1zM503 95h1v1h-1zM502 96h1v1h-1zM501 97h1v1h-1zM500 98h1v1h-1zM499 99h1v1h-1zM498 100h1v1h-1zM498 101h1v1h-1zM497 102h1v1h-1zM496 103h1v1h-1zM495 104h1v1h-1zM494 105h1v1h-1zM493 106h1v1h-1zM492 107h1v1h-1zM491 108h1v1h-1zM490 109h1v1h-1zM489 110h1v1h-1zM488 111h1v1h-1zM487 112h1v1h-1zM486 113h1v1h-1zM485 114h1v1h-1zM484 115h1v1h-1zM484 116h1v1h-1zM483 117h1v1h-1zM482 118h1v1h-1zM481 119h1v1h-1zM480 120h1v1h-1zM479 121h1v1h-1zM478 122h1v1h-1zM477 123h1v1h-1zM476 124h1v1h-1zM475 125h1v1h-1zM474 126h1v1h-1zM473 127h1v1h-1zM472 128h1v1h-1zM471 129h1v1h-1zM470 130h1v1h-1zM470 131h1v1h-1zM469 132h1v1h-1zM468 133h1v1h-1zM467 134h1v1h-1zM466 135h1v1h-1zM465 136h1v1h-1zM464 137h1v1h-1zM463 138h1v1h-1zM462 139h1v1h-1zM461 140h1v1h-1zM460 141h1v1h-1zM459 142h1v1h-1zM458 143h1v1h-1zM457 144h1v1h-1zM457 145h1v1h-1zM456 146h1v1h-1zM455 147h1v1h-1zM454 148h1v1h-1zM453 149h1v1h-1zM452 150h1v1h-1zM451 151h1v1h-1zM450 152h1v1h-1zM449 153h1v1h-1zM448 154h1v1h-1zM447 155h1v1h-1zM446 156h1v1h-1zM445 157h1v1h-1zM444 158h1v1h-1zM443 159h1v1h-1zM443 160h1v1h-1zM442 161h1v1h-1zM441 162h1v1h-1zM440 163h1v1h-1zM439 164h1v1h-1zM438 165h1v1h-1zM437 166h1v1h-1zM436 167h1v1h-1zM435 168h1v1h-1zM434 169h1v1h-1zM433 170h1v1h-1zM432 171h1v1h-1zM431 172h1v1h-1zM430 173h1v1h-1zM429 174h1v1h-1zM429 175h1v1h-1zM428 176h1v1h-1zM427 177h1v1h-1zM426 178h1v1h-1zM425 179h1v1h-1zM424 180h1v1h-1zM423 181h1v1h-1zM422 182h1v1h-1zM421 183h1v1h-1zM420 184h1v1h-1zM419 185h1v1h-1zM418 186h1v1h-1zM417 187h1v1h-1zM416 188h1v1h-1zM415 189h1v1h-1zM415 190h1v1h-1zM414 191h1v1h-1zM413 192h1v1h-1zM412 193h1v1h-1zM411 194h1v1h-1zM410 195h1v1h-1zM409 196h1v1h-1zM408 197h1v1h-1zM407 198h1v1h-1zM406 199h1v1h-1zM405 200h1v1h-1zM404 201h1v1h-1zM403 202h1v1h-1zM402 203h1v1h-1zM401 204h1v1h-1zM401 205h1v1h-1zM400 206h1v1h-1zM399 207h1v1h-1zM398 208h1v1h-1zM397 209h1v1h-1zM396 210h1v1h-1zM395 211h1v1h-1zM394 212h1v1h-1zM393 213h1v1h-1zM392 214h1v1h-1zM391 215h1v1h-1zM390 216h1v1h-1zM389 217h1v1h-1zM388 218h1v1h-1zM387 219h1v1h-1zM387 220h1v1h-1zM386 221h1v1h-1zM385 222h1v1h-1zM384 223h1v1h-1zM383 224h1v1h-1zM382 225h1v1h-1zM381 226h1v1h-1zM380 227h1v1h-1zM379 228h1v1h-1zM378 229h1v1h-1zM377 230h1v1h-1zM376 231h1v1h-1zM375 232h1v1h-1zM374 233h1v1h-1zM374 234h1v1h-1zM373 235h1v1h-1zM372 236h1v1h-1zM371 237h1v1h-1zM370 238h1v1h-1zM369 239h1v1h-1zM368 240h1v1h-1zM367 241h1v1h-1zM366 242h1v1h-1zM365 243h1v1h-1zM364 244h1v1h-1zM363 245h1v1h-1zM362 246h1v1h-1zM361 247h1v1h-1zM360 248h1v1h-1zM360 249h1v1h-1zM359 250h1v1h-1zM358 251h1v1h-1zM357 252h1v1h-1zM356 253h1v1h-1zM355 254h1v1h-1zM354 255h1v1h-1zM353 256h1v1h-1zM352 257h1v1h-1zM351 258h1v1h-1zM350 259h1v1h-1zM349 260h1v1h-1zM348 261h1v1h-1zM347 262h1v1h-1zM346 263h1v1h-1zM346 264h1v1h-1zM345 265h1v1h-1zM344 266h1v1h-1zM343 267h1v1h-1zM342 268h1v1h-1zM341 269h1v1h-1zM340 270h1v1h-1zM339 271h1v1h-1zM338 272h1v1h-1z" fill="#ffff00" shape-rendering="crispEdges"/><path d="M554 39h1v1h-1zM553 40h1v1h-1zM552 41h1v1h-1zM551 42h1v1h-1zM550 43h1v1h-1zM549 44h1v1h-1zM548 45h1v1h-1zM547 46h1v1h-1zM546 47h1v1h-1zM545 48h1v1h-1zM545 49h1v1h-1zM544 50h1v1h-1zM543 51h1v1h-1zM542 52h1v1h-1zM541 53h1v1h-1zM540 54h1v1h-1zM539 55h1v1h-1zM538 56h1v1h-1zM537 57h1v1h-1zM536 58h1v1h-1zM535 59h1v1h-1zM535 60h1v1h-1zM534 61h1v1h-1zM533 62h1v1h-1zM532 63h1v1h-1zM531 64h1v1h-1zM530 65h1v1h-1zM529 66h1v1h-1zM528 67h1v1h-1zM527 68h1v1h-1zM526 69h1v1h-1zM525 70h1v1h-1zM525 71h1v1h-1zM524 72h1v1h-1zM523 73h1v1h-1zM522 74h1v1h-1zM521 75h1v1h-1zM520 76h1v1h-1zM519 77h1v1h-1zM518 78h1v1h-1zM517 79h1v1h-1zM516 80h1v1h-1zM515 81h1v1h-1zM515 82h1v1h-1zM514 83h1v1h-1zM513 84h1v1h-1zM512 85h1v1h-1zM511 86h1v1h-1zM510 87h1v1h-1zM509 88h1v1h-1zM508 89h1v1h-1zM507 90h1v1h-1zM506 91h1v1h-1zM505 92h1v1h-1zM505 93h1v1h-1zM504 94h1v1h-1zM503 95h1v1h-1zM502 96h1v1h-1zM501 97h1v1h-1zM500 98h1v1h-1zM499 99h1v1h-1zM498 100h1v1h-1zM497 101h1v1h-1zM496 102h1v1h-1zM495 103h1v1h-1zM495 104h1v1h-1zM494 105h1v1h-1zM493 106h1v1h-1zM492 107h1v1h-1zM491 108h1v1h-1zM490 109h1v1h-1zM489 110h1v1h-1zM488 111h1v1h-1zM487 112h1v1h-1zM486 113h1v1h-1zM485 114h1v1h-1zM485 115h1v1h-1zM484 116h1v1h-1zM483 117h1v1h-1zM482 118h1v1h-1zM481 119h1v1h-1zM480 120h1v1h-1zM479 121h1v1h-1zM478 122h1v1h-1zM477 123h1v1h-1zM476 124h1v1h-1zM475 125h1v1h-1zM475 126h1v1h-1zM474 127h1v1h-1zM473 128h1v1h-1zM472 129h1v1h-1zM471 130h1v1h-1zM470 131h1v1h-1zM469 132h1v1h-1zM468 133h1v1h-1zM467 134h1v1h-1zM466 135h1v1h-1zM465 136h1v1h-1zM465 137h1v1h-1zM464 138h1v1h-1zM463 139h1v1h-1zM462 140h1v1h-1zM461 141h1v1h-1zM460 142h1v1h-1zM459 143h1v1h-1zM458 144h1v1h-1zM457 145h1v1h-1zM456 146h1v1h-1zM455 147h1v1h-1zM455 148h1v1h-1zM454 149h1v1h-1zM453 150h1v1h-1zM452 151h1v1h-1zM451 152h1v1h-1zM450 153h1v1h-1zM449 154h1v1h-1zM448 155h1v1h-1zM447 156h1v1h-1zM446 157h1v1h-1zM445 158h1v1h-1zM445 159h1v1h-1zM444 160h1v1h-1zM443 161h1v1h-1zM442 162h1v1h-1zM441 163h1v1h-1zM440 164h1v1h-1zM439 165h1v1h-1zM438 166h1v1h-1zM437 167h1v1h-1zM436 168h1v1h-1zM435 169h1v1h-1zM435 170h1v1h-1zM434 171h1v1h-1zM433 172h1v1h-1zM432 173h1v1h-1zM431 174h1v1h-1zM430 175h1v1h-1zM429 176h1v1h-1zM428 177h1v1h-1zM427 178h1v1h-1zM426 179h1v1h-1zM425 180h1v1h-1zM425 181h1v1h-1zM424 182h1v1h-1zM423 183h1v1h-1zM422 184h1v1h-1zM421 185h1v1h-1zM420 186h1v1h-1zM419 187h1v1h-1zM418 188h1v1h-1zM417 189h1v1h-1zM416 190h1v1h-1zM415 191h1v1h-1zM415 192h1v1h-1zM414 193h1v1h-1zM413 194h1v1h-1zM412 195h1v1h-1zM411 196h1v1h-1zM410 197h1v1h-1zM409 198h1v1h-1zM408 199h1v1h-1zM407 200h1v1h-1zM406 201h1v1h-1zM405 202h1v1h-1zM405 203h1v1h-1zM404 204h1v1h-1zM403 205h1v1h-1zM402 206h1v1h-1zM401 207h1v1h-1zM400 208h1v1h-1zM399 209h1v1h-1zM398 210h1v1h-1zM397 211h1v1h-1zM396 212h1v1h-1zM395 213h1v1h-1zM395 214h1v1h-1zM394 215h1v1h-1zM393 216h1v1h-1zM392 217h1v1h-1zM391 218h1v1h-1zM390 219h1v1h-1zM389 220h1v1h-1zM388 221h1v1h-1zM387 222h1v1h-1zM386 223h1v1h-1zM385 224h1v1h-1zM385 225h1v1h-1zM384 226h1v1h-1zM383 227h1v1h-1zM382 228h1v1h-1zM381 229h1v1h-1zM380 230h1v1h-1zM379 231h1v1h-1zM378 232h1v1h-1zM377 233h1v1h-1zM376 234h1v1h-1zM375 235h1v1h-1zM375 236h1v1h-1zM374 237h1v1h-1zM373 238h1v1h-1zM372 239h1v1h-1zM371 240h1v1h-1zM370 241h1v1h-1zM369 242h1v1h-1zM368 243h1v1h-1zM367 244h1v1h-1zM366 245h1v1h-1zM365 246h1v1h-1zM365 247h1v1h-1zM364 248h1v1h-1zM363 249h1v1h-1zM362 250h1v1h-1zM361 251h1v1h-1zM360 252h1v1h-1zM359 253h1v1h-1zM358 254h1v1h-1zM357 255h1v1h-1zM356 256h1v1h-1zM355 257h1v1h-1zM355 258h1v1h-1zM354 259h1v1h-1zM353 260h1v1h-1zM352 261h1v1h-1zM351 262h1v1h-1zM350 263h1v1h-1zM349 264h1v1h-1zM348 265h1v1h-1zM347 266h1v1h-1zM346 267h1v1h-1zM345 268h1v1h-1zM345 269h1v1h-1zM344 270h1v1h-1zM343 271h1v1h-1zM342 272h1v1h-1zM341 273h1v1h-1zM340 274h1v1h-1zM339 275h1v1h-1z" fill="#0000ff" shape-rendering="crispEdges"/><path d="M554 38h1v1h-1zM553 39h1v1h-1zM552 40h1v1h-1zM551 41h1v1h-1zM550 42h1v1h-1zM549 43h1v1h-1zM548 44h1v1h-1zM548 45h1v1h-1zM547 46h1v1h-1zM546 47h1v1h-1zM545 48h1v1h-1zM544 49h1v1h-1zM543 50h1v1h-1zM542 51h1v1h-1zM541 52h1v1h-1zM540 53h1v1h-1zM539 54h1v1h-1zM538 55h1v1h-1zM538 56h1v1h-1zM537 57h1v1h-1zM536 58h1v1h-1zM535 59h1v1h-1zM534 60h1v1h-1zM533 61h1v1h-1zM532 62h1v1h-1zM531 63h1v1h-1zM530 64h1v1h-1zM529 65h1v1h-1zM528 66h1v1h-1zM528 67h1v1h-1zM527 68h1v1h-1zM526 69h1v1h-1zM525 70h1v1h-1zM524 71h1v1h-1zM523 72h1v1h-1zM522 73h1v1h-1zM521 74h1v1h-1zM520 75h1v1h-1zM519 76h1v1h-1zM518 77h1v1h-1zM517 78h1v1h-1zM517 79h1v1h-1zM516 80h1v1h-1zM515 81h1v1h-1zM514 82h1v1h-1zM513 83h1v1h-1zM512 84h1v1h-1zM511 85h1v1h-1zM510 86h1v1h-1zM509 87h1v1h-1zM508 88h1v1h-1zM507 89h1v1h-1zM507 90h1v1h-1zM506 91h1v1h-1zM505 92h1v1h-1zM504 93h1v1h-1zM503 94h1v1h-1zM502 95h1v1h-1zM501 96h1v1h-1zM500 97h1v1h-1zM499 98h1v1h-1zM498 99h1v1h-1zM497 100h1v1h-1zM497 101h1v1h-1zM496 102h1v1h-1zM495 103h1v1h-1zM494 104h1v1h-1zM493 105h1v1h-1zM492 106h1v1h-1zM491 107h1v1h-1zM490 108h1v1h-1zM489 109h1v1h-1zM488 110h1v1h-1zM487 111h1v1h-1zM487 112h1v1h-1zM486 113h1v1h-1zM485 114h1v1h-1zM484 115h1v1h-1zM483 116h1v1h-1zM482 117h1v1h-1zM481 118h1v1h-1zM480 119h1v1h-1zM479 120h1v1h-1zM478 121h1v1h-1zM477 122h1v1h-1zM477 123h1v1h-1zM476 124h1v1h-1zM475 125h1v1h-1zM474 126h1v1h-1zM473 127h1v1h-1zM472 128h1v1h-1zM471 129h1v1h-1zM470 130h1v1h-1zM469 131h1v1h-1zM468 132h1v1h-1zM467 133h1v1h-1zM466 134h1v1h-1zM466 135h1v1h-1zM465 136h1v1h-1zM464 137h1v1h-1zM463 138h1v1h-1zM462 139h1v1h-1zM461 140h1v1h-1zM460 141h1v1h-1zM459 142h1v1h-1zM458 143h1v1h-1zM457 144h1v1h-1zM456 145h1v1h-1zM456 146h1v1h-1zM455 147h1v1h-1zM454 148h1v1h-1zM453 149h1v1h-1zM452 150h1v1h-1zM451 151h1v1h-1zM450 152h1v1h-1zM449 153h1v1h-1zM448 154h1v1h-1zM447 155h1v1h-1zM446 156h1v1h-1zM446 157h1v1h-1zM445 158h1v1h-1zM444 159h1v1h-1zM443 160h1v1h-1zM442 161h1v1h-1zM441 162h1v1h-1zM440 163h1v1h-1zM439 164h1v1h-1zM438 165h1v1h-1zM437 166h1v1h-1zM436 167h1v1h-1zM436 168h1v1h-1zM435 169h1v1h-1zM434 170h1v1h-1zM433 171h1v1h-1zM432 172h1v1h-1zM431 173h1v1h-1zM430 174h1v1h-1zM429 175h1v1h-1zM428 176h1v1h-1zM427 177h1v1h-1zM426 178h1v1h-1zM426 179h1v1h-1zM425 180h1v1h-1zM424 181h1v1h-1zM423 182h1v1h-1zM422 183h1v1h-1zM421 184h1v1h-1zM420 185h1v1h-1zM419 186h1v1h-1zM418 187h1v1h-1zM417 188h1v1h-1zM416 189h1v1h-1zM415 190h1v1h-1zM415 191h1v1h-1zM414 192h1v1h-1zM413 193h1v1h-1zM412 194h1v1h-1zM411 195h1v1h-1zM410 196h1v1h-1zM409 197h1v1h-1zM408 198h1v1h-1zM407 199h1v1h-1zM406 200h1v1h-1zM405 201h1v1h-1zM405 202h1v1h-1zM404 203h1v1h-1zM403 204h1v1h-1zM402 205h1v1h-1zM401 206h1v1h-1zM400 207h1v1h-1zM399 208h1v1h-1zM398 209h1v1h-1zM397 210h1v1h-1zM396 211h1v1h-1zM395 212h1v1h-1zM395 213h1v1h-1zM394 214h1v1h-1zM393 215h1v1h-1zM392 216h1v1h-1zM391 217h1v1h-1zM390 218h1v1h-1zM389 219h1v1h-1zM388 220h1v1h-1zM387 221h1v1h-1zM386 222h1v1h-1zM385 223h1v1h-1zM385 224h1v1h-1zM384 225h1v1h-1zM383 226h1v1h-1zM382 227h1v1h-1zM381 228h1v1h-1zM380 229h1v1h-1zM379 230h1v1h-1zM378 231h1v1h-1zM377 232h1v1h-1zM376 233h1v1h-1zM375 234h1v1h-1zM375 235h1v1h-1zM374 236h1v1h-1zM373 237h1v1h-1zM372 238h1v1h-1zM371 239h1v1h-1zM370 240h1v1h-1zM369 241h1v1h-1zM368 242h1v1h-1zM367 243h1v1h-1zM366 244h1v1h-1zM365 245h1v1h-1zM364 246h1v1h-1zM364 247h1v1h-1zM363 248h1v1h-1zM362 249h1v1h-1zM361 250h1v1h-1zM360 251h1v1h-1zM359 252h1v1h-1zM358 253h1v1h-1zM357 254h1v1h-1zM356 255h1v1h-1zM355 256h1v1h-1zM354 257h1v1h-1zM354 258h1v1h-1zM353 259h1v1h-1zM352 260h1v1h-1zM351 261h1v1h-1zM350 262h1v1h-1zM349 263h1v1h-1zM348 264h1v1h-1zM347 265h1v1h-1zM346 266h1v1h-1zM345 267h1v1h-1zM344 268h1v1h-1zM344 269h1v1h-1zM343 270h1v1h-1zM342 271h1v1h-1zM341 272h1v1h-1zM340 273h1v1h-1zM339 274h1v1h-1zM338 275h1v1h-1z" fill="#ff0000" shape-rendering="crispEdges"/><path d="M477 109h2v1h1v2h-1v1h-2v-1h-1v-2h1zM474 114h2v1h1v2h-1v1h-2v-1h-1v-2h1zM472 115h2v1h1v2h-1v1h-2v-1h-1v-2h1zM491 97h2v1h1v2h-1v1h-2v-1h-1v-2h1zM495 94h2v1h1v2h-1v1h-2v-1h-1v-2h1zM504 84h2v1h1v2h-1v1h-2v-1h-1v-2h1zM507 81h2v1h1v2h-1v1h-2v-1h-1v-2h1zM515 76h2v1h1v2h-1v1h-2v-1h-1v-2h1zM475 112h2v1h1v2h-1v1h-2v-1h-1v-2h1zM477 110h2v1h1v2h-1v1h-2v-1h-1v-2h1zM463 122h2v1h1v2h-1v1h-2v-1h-1v-2h1zM459 127h2v1h1v2h-1v1h-2v-1h-1v-2h1zM453 134h2v1h1v2h-1v1h-2v-1h-1v-2h1zM443 140h2v1h1v2h-1v1h-2v-1h-1v-2h1zM442 143h2v1h1v2h-1v1h-2v-1h-1v-2h1zM429 155h2v1h1v2h-1v1h-2v-1h-1v-2h1zM427 158h2v1h1v2h-1v1h-2v-1h-1v-2h1zM471 136h2v1h1v2h-1v1h-2v-1h-1v-2h1zM464 146h2v1h1v2h-1v1h-2v-1h-1v-2h1zM461 148h2v1h1v2h-1v1h-2v-1h-1v-2h1zM451 161h2v1h1v2h-1v1h-2v-1h-1v-2h1zM450 164h2v1h1v2h-1v1h-2v-1h-1v-2h1zM395 180h2v1h1v2h-1v1h-2v-1h-1v-2h1zM401 181h2v1h1v2h-1v1h-2v-1h-1v-2h1zM408 177h2v1h1v2h-1v1h-2v-1h-1v-2h1zM416 169h2v1h1v2h-1v1h-2v-1h-1v-2h1zM414 174h2v1h1v2h-1v1h-2v-1h-1v-2h1zM398 192h2v1h1v2h-1v1h-2v-1h-1v-2h1zM395 190h2v1h1v2h-1v1h-2v-1h-1v-2h1zM415 190h2v1h1v2h-1v1h-2v-1h-1v-2h1zM415 194h2v1h1v2h-1v1h-2v-1h-1v-2h1zM408 198h2v1h1v2h-1v1h-2v-1h-1v-2h1zM415 201h2v1h1v2h-1v1h-2v-1h-1v-2h1zM422 188h2v1h1v2h-1v1h-2v-1h-1v-2h1zM431 186h2v1h1v2h-1v1h-2v-1h-1v-2h1zM427 158h2v1h1v2h-1v1h-2v-1h-1v-2h1zM424 161h2v1h1v2h-1v1h-2v-1h-1v-2h1zM397 192h2v1h1v2h-1v1h-2v-1h-1v-2h1zM396 180h2v1h1v2h-1v1h-2v-1h-1v-2h1zM400 181h2v1h1v2h-1v1h-2v-1h-1v-2h1zM430 156h2v1h1v2h-1v1h-2v-1h-1v-2h1zM450 164h2v1h1v2h-1v1h-2v-1h-1v-2h1zM443 171h2v1h1v2h-1v1h-2v-1h-1v-2h1zM441 176h2v1h1v2h-1v1h-2v-1h-1v-2h1zM436 180h2v1h1v2h-1v1h-2v-1h-1v-2h1zM431 186h2v1h1v2h-1v1h-2v-1h-1v-2h1zM457 152h2v1h1v2h-1v1h-2v-1h-1v-2h1z" fill="#ff0000" shape-rendering="crispEdges"/><path d="M511 77h2v1h1v2h-1v1h-2v-1h-1v-2h1zM505 81h2v1h1v2h-1v1h-2v-1h-1v-2h1zM498 90h2v1h1v2h-1v1h-2v-1h-1v-2h1zM483 103h2v1h1v2h-1v1h-2v-1h-1v-2h1zM487 115h2v1h1v2h-1v1h-2v-1h-1v-2h1zM474 131h2v1h1v2h-1v1h-2v-1h-1v-2h1zM469 139h2v1h1v2h-1v1h-2v-1h-1v-2h1zM458 152h2v1h1v2h-1v1h-2v-1h-1v-2h1zM434 152h2v1h1v2h-1v1h-2v-1h-1v-2h1zM429 156h2v1h1v2h-1v1h-2v-1h-1v-2h1zM419 165h2v1h1v2h-1v1h-2v-1h-1v-2h1zM411 175h2v1h1v2h-1v1h-2v-1h-1v-2h1zM408 182h2v1h1v2h-1v1h-2v-1h-1v-2h1zM401 182h2v1h1v2h-1v1h-2v-1h-1v-2h1zM407 184h2v1h1v2h-1v1h-2v-1h-1v-2h1zM413 196h2v1h1v2h-1v1h-2v-1h-1v-2h1zM417 193h2v1h1v2h-1v1h-2v-1h-1v-2h1zM429 190h2v1h1v2h-1v1h-2v-1h-1v-2h1zM429 198h2v1h1v2h-1v1h-2v-1h-1v-2h1zM415 204h2v1h1v2h-1v1h-2v-1h-1v-2h1zM396 211h2v1h1v2h-1v1h-2v-1h-1v-2h1zM435 185h2v1h1v2h-1v1h-2v-1h-1v-2h1zM420 165h2v1h1v2h-1v1h-2v-1h-1v-2h1zM432 180h2v1h1v2h-1v1h-2v-1h-1v-2h1zM398 241h2v1h1v2h-1v1h-2v-1h-1v-2h1zM445 171h2v1h1v2h-1v1h-2v-1h-1v-2h1zM434 185h2v1h1v2h-1v1h-2v-1h-1v-2h1zM430 190h2v1h1v2h-1v1h-2v-1h-1v-2h1zM430 199h2v1h1v2h-1v1h-2v-1h-1v-2h1zM434 151h2v1h1v2h-1v1h-2v-1h-1v-2h1zM459 150h2v1h1v2h-1v1h-2v-1h-1v-2h1z" fill="#0000ff" shape-rendering="crispEdges"/><polyline points="516.5,79 513,79.5 506,83.5 500,91 493,98 491.5,101.7 484.0,107.7 476.5,113.7 470.5,120.2 466.5,123.9 459.0,131.2 453.0,138.2 444,142 439.5,146 432,154 426,159.5 420.5,164.5 414.5,169" fill="none" stroke="#ff0000" stroke-width="4" stroke-linejoin="round" stroke-dasharray="14 2 6 3 10 2"/><polygon points="516.5,79 513,79.5 506,83.5 500,91 493,98 491.5,101.7 484.0,107.7 476.5,113.7 470.5,120.2 466.5,123.9 459.0,131.2 453.0,138.2 444,142 439.5,146 432,154 426,159.5 420.5,164.5 414.5,169 413,176.5 410,181 407,188.5 410,193 416,193 423.5,191.5 430,189 434.5,183 440.5,177 446,170 451,162 456.5,155.5 462,149 468,141.5 474,134 480,124 486,119 490,114.7 494.5,108 498,103 502,99 507,93 512,87 517,81.5" fill="#ffff00" stroke="#ffff00" stroke-width="2" stroke-linejoin="round"/><path d="M443 140h2v1h1v2h-1v1h-2v-1h-1v-2h1zM460 128h2v1h1v2h-1v1h-2v-1h-1v-2h1zM476 112h2v1h1v2h-1v1h-2v-1h-1v-2h1zM495 94h2v1h1v2h-1v1h-2v-1h-1v-2h1zM507 81h2v1h1v2h-1v1h-2v-1h-1v-2h1zM441 173h2v1h1v2h-1v1h-2v-1h-1v-2h1zM464 143h2v1h1v2h-1v1h-2v-1h-1v-2h1zM416 169h2v1h1v2h-1v1h-2v-1h-1v-2h1zM408 177h2v1h1v2h-1v1h-2v-1h-1v-2h1zM401 181h2v1h1v2h-1v1h-2v-1h-1v-2h1zM395 180h2v1h1v2h-1v1h-2v-1h-1v-2h1zM398 192h2v1h1v2h-1v1h-2v-1h-1v-2h1zM415 190h2v1h1v2h-1v1h-2v-1h-1v-2h1zM415 194h2v1h1v2h-1v1h-2v-1h-1v-2h1zM408 198h2v1h1v2h-1v1h-2v-1h-1v-2h1zM415 201h2v1h1v2h-1v1h-2v-1h-1v-2h1zM422 188h2v1h1v2h-1v1h-2v-1h-1v-2h1zM431 186h2v1h1v2h-1v1h-2v-1h-1v-2h1zM427 158h2v1h1v2h-1v1h-2v-1h-1v-2h1z" fill="#ff0000" shape-rendering="crispEdges"/><path d="M498 90h2v1h1v2h-1v1h-2v-1h-1v-2h1zM511 78h2v1h1v2h-1v1h-2v-1h-1v-2h1zM445 168h2v1h1v2h-1v1h-2v-1h-1v-2h1zM469 137h2v1h1v2h-1v1h-2v-1h-1v-2h1zM487 114h2v1h1v2h-1v1h-2v-1h-1v-2h1zM411 175h2v1h1v2h-1v1h-2v-1h-1v-2h1zM408 182h2v1h1v2h-1v1h-2v-1h-1v-2h1zM407 184h2v1h1v2h-1v1h-2v-1h-1v-2h1zM413 196h2v1h1v2h-1v1h-2v-1h-1v-2h1zM417 193h2v1h1v2h-1v1h-2v-1h-1v-2h1zM429 190h2v1h1v2h-1v1h-2v-1h-1v-2h1zM429 198h2v1h1v2h-1v1h-2v-1h-1v-2h1zM415 204h2v1h1v2h-1v1h-2v-1h-1v-2h1zM396 211h2v1h1v2h-1v1h-2v-1h-1v-2h1zM435 185h2v1h1v2h-1v1h-2v-1h-1v-2h1zM432 180h2v1h1v2h-1v1h-2v-1h-1v-2h1z" fill="#0000ff" shape-rendering="crispEdges"/><path d="M438 146h2v1h1v2h-1v1h-2v-1h-1v-2h1zM467 142h2v1h1v2h-1v1h-2v-1h-1v-2h1zM458 155h2v1h1v2h-1v1h-2v-1h-1v-2h1zM393 190h2v1h1v2h-1v1h-2v-1h-1v-2h1zM399 180h2v1h1v2h-1v1h-2v-1h-1v-2h1zM416 165h2v1h1v2h-1v1h-2v-1h-1v-2h1zM405 188h2v1h1v2h-1v1h-2v-1h-1v-2h1zM404 184h2v1h1v2h-1v1h-2v-1h-1v-2h1zM422 198h2v1h1v2h-1v1h-2v-1h-1v-2h1zM410 202h2v1h1v2h-1v1h-2v-1h-1v-2h1zM419 194h2v1h1v2h-1v1h-2v-1h-1v-2h1zM366 193h2v1h1v2h-1v1h-2v-1h-1v-2h1zM394 191h2v1h1v2h-1v1h-2v-1h-1v-2h1zM458 155h2v1h1v2h-1v1h-2v-1h-1v-2h1zM393 190h2v1h1v2h-1v1h-2v-1h-1v-2h1zM399 180h2v1h1v2h-1v1h-2v-1h-1v-2h1zM416 165h2v1h1v2h-1v1h-2v-1h-1v-2h1zM413 166h2v1h1v2h-1v1h-2v-1h-1v-2h1zM405 188h2v1h1v2h-1v1h-2v-1h-1v-2h1zM404 184h2v1h1v2h-1v1h-2v-1h-1v-2h1zM422 198h2v1h1v2h-1v1h-2v-1h-1v-2h1zM410 202h2v1h1v2h-1v1h-2v-1h-1v-2h1zM419 194h2v1h1v2h-1v1h-2v-1h-1v-2h1zM421 191h2v1h1v2h-1v1h-2v-1h-1v-2h1zM424 193h2v1h1v2h-1v1h-2v-1h-1v-2h1z" fill="#ffff00" shape-rendering="crispEdges"/>

</g>
<rect x="338.5" y="38.5" width="216" height="237" fill="none" stroke="#000" stroke-width="1"/>
<line x1="346.5" y1="275.5" x2="346.5" y2="279" stroke="#000"/>
<text x="345.7" y="288.2" text-anchor="middle" class="t">-10</text>
<line x1="396.5" y1="275.5" x2="396.5" y2="279" stroke="#000"/>
<text x="395.7" y="288.2" text-anchor="middle" class="t">-5</text>
<line x1="446.5" y1="275.5" x2="446.5" y2="279" stroke="#000"/>
<text x="446.5" y="288.2" text-anchor="middle" class="t">0</text>
<line x1="496.5" y1="275.5" x2="496.5" y2="279" stroke="#000"/>
<text x="496.5" y="288.2" text-anchor="middle" class="t">5</text>
<line x1="546.5" y1="275.5" x2="546.5" y2="279" stroke="#000"/>
<text x="546.5" y="288.2" text-anchor="middle" class="t">10</text>
<line x1="334" y1="47.5" x2="338.5" y2="47.5" stroke="#000"/>
<text transform="translate(330.5,47.5) rotate(-90)" text-anchor="middle" class="t">10</text>
<line x1="334" y1="102.25" x2="338.5" y2="102.25" stroke="#000"/>
<text transform="translate(330.5,102.25) rotate(-90)" text-anchor="middle" class="t">5</text>
<line x1="334" y1="157.0" x2="338.5" y2="157.0" stroke="#000"/>
<text transform="translate(330.5,157.0) rotate(-90)" text-anchor="middle" class="t">0</text>
<line x1="334" y1="211.75" x2="338.5" y2="211.75" stroke="#000"/>
<text transform="translate(330.5,211.75) rotate(-90)" text-anchor="middle" class="t">-5</text>
<line x1="334" y1="266.5" x2="338.5" y2="266.5" stroke="#000"/>
<text transform="translate(330.5,266.5) rotate(-90)" text-anchor="middle" class="t">-10</text>
<text x="391.5" y="303.5" class="t" textLength="107.1" lengthAdjust="spacing">gene expression</text>
<text transform="translate(317,208) rotate(-90)" class="t" textLength="106" lengthAdjust="spacing">gene expression</text>
<text x="361.7" y="64.7" class="bi" textLength="52.6" lengthAdjust="spacing" fill="#bebebe">Control</text>
<text x="361.5" y="80.7" class="bi" fill="#000">n=3</text>
<text x="129" y="334.5" class="t" textLength="339.4" lengthAdjust="spacing">Average R-squared: Treatment (0.98), Control (0.98)</text>
<text x="74.5" y="356.8" class="s" textLength="448.3" lengthAdjust="spacing">Calculation: Affymetrix MAS 5.0, Signal intensities were devided by the chip median</text>
<text x="103" y="370.8" class="s" textLength="391" lengthAdjust="spacing">Genes detected at least one chip were plotted (detection p-value &lt; 0.01)</text>
</svg>
</body></html>
